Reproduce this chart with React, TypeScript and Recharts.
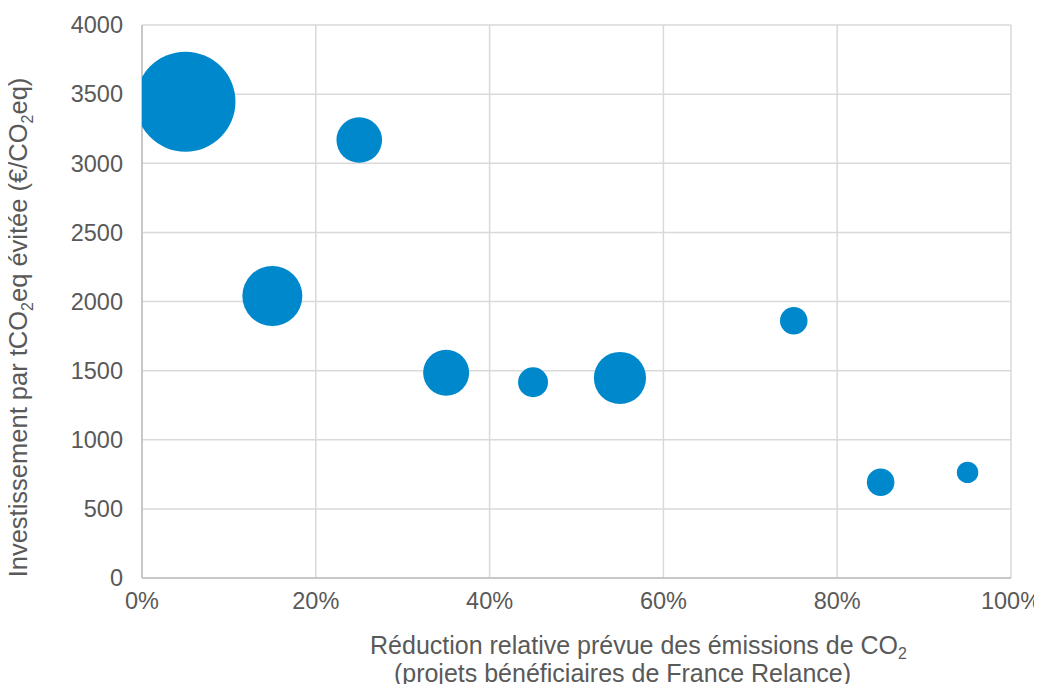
import React from "react";
import {
  ScatterChart,
  Scatter,
  XAxis,
  YAxis,
  ZAxis,
  CartesianGrid,
  Cell,
} from "recharts";

// Réduction relative prévue des émissions (part)
const reduction = [0.05, 0.15, 0.25, 0.35, 0.45, 0.55, 0.75, 0.85, 0.95];
// Investissement par tCO2eq évitée (€/CO2eq)
const costPerTonne = [3445, 2040, 3168, 1485, 1416, 1447, 1861, 692, 764];
// taille relative des bulles (proportionnelle à l'aire)
const bubbleSize = [250, 90, 52, 53, 22.5, 68, 19, 19, 11.5];

const xTicks = [0, 0.2, 0.4, 0.6, 0.8, 1];
const yTicks = [0, 500, 1000, 1500, 2000, 2500, 3000, 3500, 4000];

const data = reduction.map((x, i) => ({
  x,
  y: costPerTonne[i],
  z: bubbleSize[i],
}));

const BLUE = "#0088cd";
const TEXT = "#595959";
const FONT = "'Liberation Sans', Arial, sans-serif";

function YTitle(props: any) {
  const vb = props.viewBox || {};
  const cx = 27;
  const cy = vb.y + vb.height / 2 + 26;
  return (
    <text
      x={cx}
      y={cy}
      transform={`rotate(-90, ${cx}, ${cy})`}
      textAnchor="middle"
      fill={TEXT}
      fontSize={25.5}
      fontFamily={FONT}
    >
      <tspan>Investissement par tCO</tspan>
      <tspan fontSize={16} dy={6}>2</tspan>
      <tspan dy={-6}>eq évitée (€/CO</tspan>
      <tspan fontSize={16} dy={6}>2</tspan>
      <tspan dy={-6}>eq)</tspan>
    </text>
  );
}

function XTitle(props: any) {
  const vb = props.viewBox || {};
  const mid = vb.x + vb.width / 2;
  return (
    <g fill={TEXT} fontSize={25} fontFamily={FONT}>
      <text x={mid + 62} y={654} textAnchor="middle">
        <tspan>Réduction relative prévue des émissions de CO</tspan>
        <tspan fontSize={16} dy={5}>2</tspan>
      </text>
      <text x={mid + 46} y={682} textAnchor="middle">
        (projets bénéficiaires de France Relance)
      </text>
    </g>
  );
}

export default function App() {
  return (
    <div style={{ width: 1042, height: 692, margin: -8 }}>
      <ScatterChart
        width={1042}
        height={692}
        margin={{ top: 25, right: 31, left: 0, bottom: 0 }}
      >
        <CartesianGrid stroke="#d9d9d9" strokeWidth={1.5} />
        <XAxis
          type="number"
          dataKey="x"
          domain={[0, 1]}
          ticks={xTicks}
          allowDataOverflow
          height={114}
          tickFormatter={(v: number) => `${Math.round(v * 100)}%`}
          tick={{ fill: TEXT, fontSize: 23.5, fontFamily: FONT }}
          tickLine={false}
          tickSize={0}
          tickMargin={14}
          axisLine={{ stroke: "#bfbfbf", strokeWidth: 1.5 }}
          label={{ content: XTitle }}
        />
        <YAxis
          type="number"
          dataKey="y"
          domain={[0, 4000]}
          ticks={yTicks}
          width={142}
          tick={{ fill: TEXT, fontSize: 23.5, fontFamily: FONT }}
          tickLine={false}
          tickSize={0}
          tickMargin={19}
          axisLine={{ stroke: "#bfbfbf", strokeWidth: 1.5 }}
          label={{ content: YTitle }}
        />
        <ZAxis type="number" dataKey="z" domain={[0, 250]} range={[0, 7854]} />
        <Scatter data={data} fill={BLUE} isAnimationActive={false}>
          {data.map((_, i) => (
            <Cell key={`b-${i}`} fill={BLUE} />
          ))}
        </Scatter>
      </ScatterChart>
    </div>
  );
}
